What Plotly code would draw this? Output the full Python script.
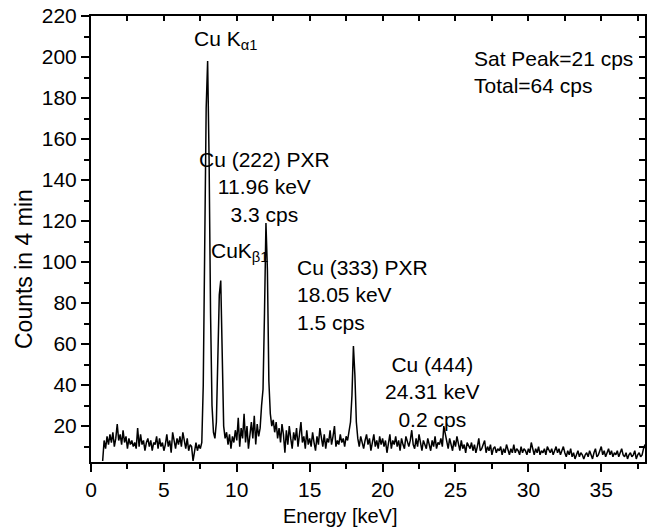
import numpy as np
import plotly.graph_objects as go

# Energy channels (keV), 0.1 keV bins from 0.8 to 38.0
energy = np.round(np.arange(0.8, 38.0001, 0.1), 2)

# Counts in 4 min (one row per keV)
counts = [
    3, 13,                                            # 0.8-0.9
    9, 15, 11, 16, 12, 17, 10, 14, 21, 13,            # 1
    16, 11, 18, 12, 15, 9, 14, 11, 13, 10,            # 2
    12, 9, 19, 10, 16, 11, 13, 8, 12, 14,             # 3
    10, 13, 8, 12, 11, 15, 9, 14, 10, 12,             # 4
    8, 11, 16, 10, 13, 7, 17, 12, 9, 14,              # 5
    11, 15, 10, 17, 12, 9, 14, 8, 11, 10,             # 6
    3, 9, 12, 8, 11, 9, 12, 40, 110, 175,             # 7
    198, 150, 75, 30, 17, 14, 22, 55, 84, 91,         # 8
    50, 20, 14, 17, 11, 16, 9, 15, 12, 18,            # 9
    13, 24, 10, 19, 14, 26, 12, 20, 9, 17,            # 10
    22, 14, 25, 11, 21, 15, 19, 30, 38, 75,           # 11
    119, 96, 42, 26, 20, 23, 17, 22, 14, 19,          # 12
    12, 21, 16, 7, 18, 11, 20, 14, 9, 17,             # 13
    13, 19, 10, 16, 22, 12, 15, 9, 18, 11,            # 14
    14, 10, 17, 12, 8, 15, 11, 19, 13, 10,            # 15
    16, 9, 14, 12, 18, 11, 15, 20, 10, 13,            # 16
    11, 16, 12, 14, 10, 15, 13, 17, 22, 35,           # 17
    59, 45, 22, 14, 10, 15, 12, 9, 13, 16,            # 18
    11, 14, 8, 12, 16, 10, 13, 9, 15, 11,             # 19
    14, 10, 13, 7, 12, 16, 9, 13, 11, 15,             # 20
    10, 13, 8, 14, 11, 9, 15, 12, 10, 13,             # 21
    18, 11, 9, 14, 10, 16, 12, 8, 13, 11,             # 22
    9, 14, 11, 8, 13, 10, 15, 9, 12, 11,              # 23
    14, 10, 20, 16, 12, 9, 14, 11, 8, 13,             # 24
    10, 15, 12, 8, 13, 9, 11, 7, 12, 10,              # 25
    9, 12, 8, 11, 7, 10, 14, 8, 9, 11,                # 26
    13, 7, 10, 8, 11, 6, 9, 10, 7, 9,                 # 27
    8, 10, 6, 9, 7, 11, 8, 6, 9, 7,                   # 28
    11, 7, 9, 8, 6, 10, 7, 9, 8, 6,                   # 29
    9, 7, 12, 8, 6, 9, 7, 10, 6, 8,                   # 30
    7, 9, 6, 10, 8, 7, 9, 6, 8, 10,                   # 31
    7, 9, 6, 8, 10, 7, 5, 8, 6, 9,                    # 32
    5, 7, 4, 6, 8, 5, 7, 6, 4, 6,                     # 33
    7, 5, 8, 6, 4, 7, 9, 5, 6, 8,                     # 34
    10, 6, 8, 5, 7, 9, 6, 8, 5, 7,                    # 35
    6, 8, 5, 7, 9, 6, 5, 7, 4, 6,                     # 36
    7, 5, 6, 8, 4, 6, 7, 5, 6, 9,                     # 37
    11,                                               # 38.0
]

x_title = "Energy [keV]"
y_title = "Counts in 4 min"

labels = [
    # text, x (keV), y (counts), xanchor, align
    ("Cu K<sub>α1</sub>", 6.95, 208.5, "left", "left"),
    ("CuK<sub>β1</sub>", 8.12, 105.0, "left", "left"),
    ("Cu (222) PXR<br>11.96 keV<br>3.3 cps", 11.9, 136.4, "center", "center"),
    ("Cu (333) PXR<br>18.05 keV<br>1.5 cps", 14.0, 83.7, "left", "left"),
    ("Cu (444)<br>24.31 keV<br>0.2 cps", 23.4, 36.4, "center", "center"),
    ("Sat Peak=21 cps<br>Total=64 cps", 26.1, 192.8, "left", "left"),
]

FONT = "Liberation Sans, Arial, sans-serif"
FS = 21
W, H = 652, 530
ML, MR, MT, MB = 91, 7, 16, 68
PW, PH = W - ML - MR, H - MT - MB


def px_to_paper(px, py):
    return (px - ML) / PW, (H - MB - py) / PH


fig = go.Figure()
fig.add_trace(go.Scatter(x=energy, y=counts, mode="lines",
                         line=dict(color="black", width=1.5),
                         hoverinfo="skip", showlegend=False))
# invisible copy on the mirror axes so they are drawn
fig.add_trace(go.Scatter(x=energy, y=counts, mode="lines", xaxis="x2", yaxis="y2",
                         line=dict(color="rgba(0,0,0,0)", width=0),
                         hoverinfo="skip", showlegend=False))

axis_common = dict(showgrid=False, zeroline=False, showline=True, automargin=False,
                   linecolor="black", linewidth=2, tickcolor="black",
                   tickwidth=1.6)

fig.update_layout(
    width=W, height=H,
    margin=dict(l=ML, r=MR, t=MT, b=MB, autoexpand=False),
    paper_bgcolor="white", plot_bgcolor="white",
    font=dict(family=FONT, size=FS, color="black"),
    xaxis=dict(range=[0, 38], ticks="outside", tick0=0, dtick=5, ticklen=8,
               minor=dict(dtick=2.5, ticklen=5, ticks="outside", tickcolor="black", tickwidth=1.6),
               tickfont=dict(size=FS), **axis_common),
    yaxis=dict(range=[2.5, 220], ticks="outside", tick0=0, dtick=20, ticklen=8,
               minor=dict(dtick=10, ticklen=5, ticks="outside", tickcolor="black", tickwidth=1.6),
               tickfont=dict(size=FS), **axis_common),
    xaxis2=dict(range=[0, 38], overlaying="x", side="top", anchor="y",
                ticks="inside", tick0=0, dtick=2.5, ticklen=5,
                showticklabels=False, **axis_common),
    yaxis2=dict(range=[2.5, 220], overlaying="y", side="right", anchor="x",
                ticks="inside", tick0=0, dtick=10, ticklen=6,
                showticklabels=False, **axis_common),
)

for text, xv, yv, xa, al in labels:
    fig.add_annotation(text=text, x=xv, y=yv, xref="x", yref="y",
                       xanchor=xa, yanchor="middle", align=al,
                       showarrow=False, font=dict(family=FONT, size=FS, color="black"))

# axis titles placed as in the reference
xt = px_to_paper(340, 516)
yt = px_to_paper(24, 269)
fig.add_annotation(text=x_title, x=xt[0], y=xt[1], xref="paper", yref="paper",
                   xanchor="center", yanchor="middle", showarrow=False,
                   font=dict(family=FONT, size=20, color="black"))
fig.add_annotation(text=y_title, x=yt[0], y=yt[1], xref="paper", yref="paper",
                   xanchor="center", yanchor="middle", showarrow=False, textangle=-90,
                   font=dict(family=FONT, size=23, color="black"))

fig.write_html("out.html", config={"displayModeBar": False},
               post_script="document.body.style.margin='0';document.body.style.padding='0';")
